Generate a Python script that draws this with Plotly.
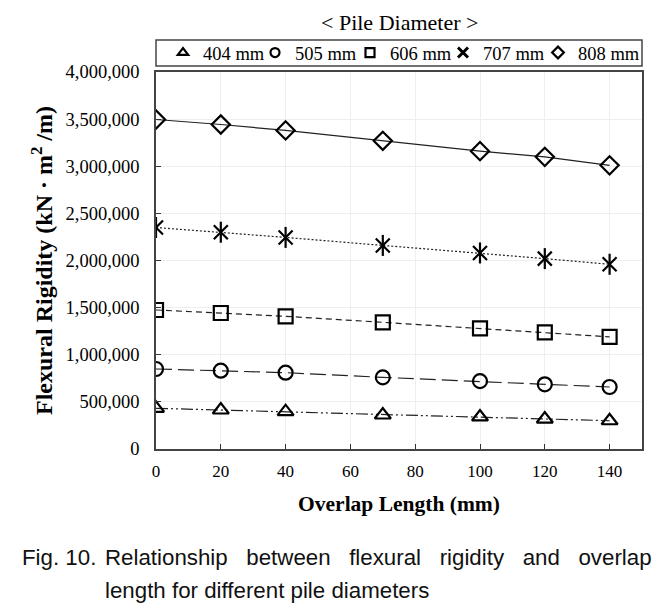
import plotly.graph_objects as go

overlap = [0, 20, 40, 70, 100, 120, 140]
d404 = [432000, 414000, 396000, 361000, 340000, 318000, 300000]
d505 = [849000, 831000, 810000, 760000, 720000, 686000, 658000]
d606 = [1475000, 1443000, 1408000, 1344000, 1280000, 1238000, 1190000]
d707 = [2350000, 2300000, 2245000, 2160000, 2080000, 2020000, 1960000]
d808 = [3496000, 3443000, 3380000, 3270000, 3160000, 3100000, 3010000]

names = ["404 mm", "505 mm", "606 mm", "707 mm", "808 mm"]
series = [d404, d505, d606, d707, d808]
symbols = ["triangle-up-open", "circle-open", "square-open", "x-thin-open", "diamond-open"]
legend_symbols = ["triangle-up-open", "circle-open", "square-open", "x-thin-open", "diamond-open"]
dashes = ["12px,3px,2px,3px,2px,3px", "16px,6px", "6px,4px", "2px,2px", "solid"]
legend_ids = ["legend", "legend2", "legend3", "legend4", "legend5"]

fig = go.Figure()
for nm, ys, sym, ds in zip(names, series, symbols, dashes):
    fig.add_trace(go.Scatter(
        x=overlap, y=ys, mode="lines+markers", name=nm, showlegend=False,
        line=dict(color="#222", width=1.2, dash=ds),
        marker=dict(symbol=sym, size=14, color="black", line=dict(color="black", width=2.2)),
    ))
    if nm == "707 mm":
        # vertical stroke completing the six-armed star marker
        fig.add_trace(go.Scatter(
            x=overlap, y=ys, mode="markers", name=nm, showlegend=False,
            marker=dict(symbol="line-ns-open", size=15, color="black", line=dict(color="black", width=2.2)),
        ))
# legend entries: markers only, as in the reference
for nm, sym, lid in zip(names, legend_symbols, legend_ids):
    fig.add_trace(go.Scatter(
        x=[None], y=[None], mode="markers", name=nm, showlegend=True, legend=lid,
        marker=dict(symbol=sym, size=9 if sym != "x-thin-open" else 10, color="black",
                    line=dict(color="black", width=2.2 if sym != "x-thin-open" else 3)),
    ))

serif = "Liberation Serif"
sans = "Liberation Sans"
OFF = 8  # page body margin; design in page pixels
W, H = 671 - OFF, 607 - OFF
PL, PR, PT, PB = 156 - OFF, 642 - OFF, 72 - OFF, 449 - OFF
pw, ph = PR - PL, PB - PT


def px_x(p):  # page pixel -> paper
    return (p - OFF - PL) / pw


def px_y(p):
    return (PB - (p - OFF)) / ph


legend_lefts = [163, 255, 350, 443, 538]
legend_layout = {}
for lid, lx in zip(legend_ids, legend_lefts):
    legend_layout[lid] = dict(
        orientation="h", x=px_x(lx), xanchor="left", y=px_y(53), yanchor="middle",
        borderwidth=0, bgcolor="rgba(0,0,0,0)", itemwidth=30,
        font=dict(family=serif, size=18.5, color="black"),
    )

fig.update_layout(
    width=W, height=H,
    margin=dict(l=PL, r=W - PR, t=PT, b=H - PB, autoexpand=False),
    paper_bgcolor="white", plot_bgcolor="white",
    font=dict(family=serif, color="black", size=17),
    showlegend=True,
    xaxis=dict(
        range=[0, 150], tickvals=[0, 20, 40, 60, 80, 100, 120, 140],
        ticks="inside", ticklen=5, tickcolor="#333", tickwidth=1,
        showline=True, linecolor="#444", linewidth=1.5, mirror=True,
        showgrid=True, gridcolor="#eeeeee", gridwidth=1, zeroline=False,
        tickfont=dict(family=serif, size=17), ticklabelstandoff=6,
        title=dict(text="<b>Overlap Length (mm)</b>", font=dict(family=serif, size=21.5), standoff=16),
    ),
    yaxis=dict(
        range=[0, 4000000], tickvals=[0, 500000, 1000000, 1500000, 2000000, 2500000, 3000000, 3500000, 4000000],
        tickformat=",d",
        ticks="inside", ticklen=5, tickcolor="#333", tickwidth=1,
        showline=True, linecolor="#444", linewidth=1.5, mirror=True,
        showgrid=True, gridcolor="#eeeeee", gridwidth=1, zeroline=False,
        tickfont=dict(family=serif, size=18.5), ticklabelstandoff=11,
        title=dict(text="<b>Flexural Rigidity (kN · m<sup>2</sup> /m)</b>", font=dict(family=serif, size=24), standoff=6),
    ),
    shapes=[
        dict(type="rect", xref="paper", yref="paper", x0=px_x(156), x1=px_x(642), y0=px_y(66), y1=px_y(40),
             line=dict(color="#444", width=1.5), fillcolor="rgba(0,0,0,0)"),
    ],
    annotations=[
        dict(text="&lt; Pile Diameter &gt;", xref="paper", yref="paper", x=0.5, y=px_y(22),
             xanchor="center", yanchor="middle", showarrow=False, font=dict(family=serif, size=22)),
        dict(text="Fig.\u00a010.", xref="paper", yref="paper",
             x=px_x(20), y=px_y(557), xanchor="left", yanchor="middle", showarrow=False,
             font=dict(family=sans, size=22.3, color="#111")),
        dict(text="Relationship\u00a0\u00a0\u00a0between\u00a0\u00a0\u00a0flexural\u00a0\u00a0\u00a0rigidity\u00a0\u00a0\u00a0and\u00a0\u00a0\u00a0overlap",
             xref="paper", yref="paper",
             x=px_x(103), y=px_y(557), xanchor="left", yanchor="middle", showarrow=False,
             font=dict(family=sans, size=22.3, color="#111")),
        dict(text="length for different pile diameters", xref="paper", yref="paper",
             x=px_x(103), y=px_y(590), xanchor="left", yanchor="middle", showarrow=False,
             font=dict(family=sans, size=22.3, color="#111")),
    ],
    **legend_layout,
)

fig.write_html("out.html")
